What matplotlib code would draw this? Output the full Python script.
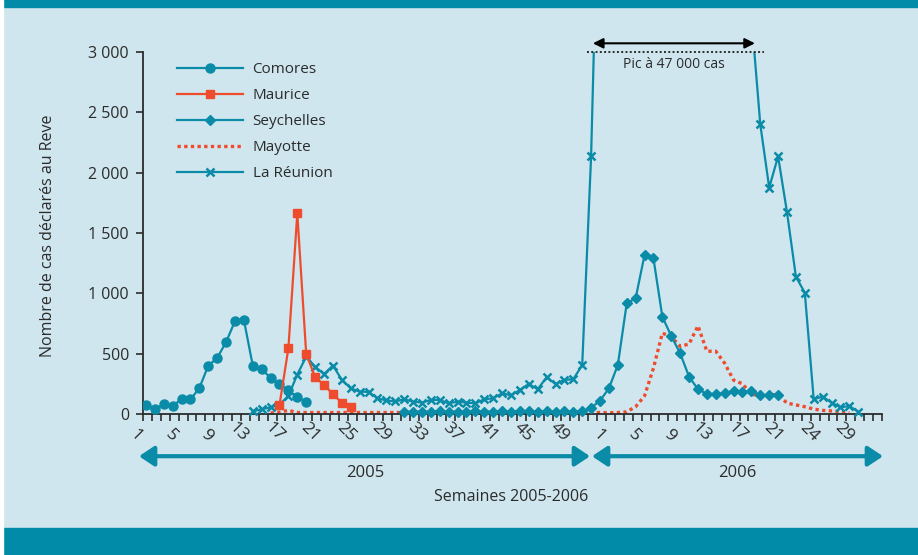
import numpy as np
import matplotlib
matplotlib.use('Agg')
import matplotlib.pyplot as plt
import matplotlib.transforms as mtransforms
from matplotlib.patches import Rectangle, FancyArrowPatch
from matplotlib.lines import Line2D

plt.rcParams['font.family'] = ['Open Sans', 'DejaVu Sans']

# weeks: index 0 = 2005 week 1, index 52 = 2006 week 1
n_2005 = 52

# Comores, 2005 weeks 1-19
comores_start = 0
comores = [72, 40, 80, 65, 125, 120, 215, 400, 465, 595, 770, 780, 400, 370,
           300, 245, 195, 140, 100]

# Maurice, 2005 weeks 16-24
maurice_start = 15
maurice = [75, 545, 1663, 497, 307, 240, 166, 91, 55]

# Seychelles, 2005 week 30 to 2006 week 20
seychelles_start = 29
seychelles = [18, 20, 18, 20, 22, 18, 20, 20, 22, 20, 20, 22, 20, 22, 24, 20,
              22, 20, 22, 20, 22, 52, 110,
              213, 406, 917, 959, 1318, 1290, 806, 646, 503, 309, 205, 166,
              166, 171, 193, 185, 190, 157, 157, 157]

# Mayotte, 2005 week 15 to 2006 week 28
mayotte_start = 14
mayotte = [8, 15, 30, 12, 12, 12, 12, 12, 12, 12, 12, 12, 12, 12, 12, 12,
           12, 12, 12, 12, 12, 12, 12, 12, 12, 12, 12, 12, 12, 12, 12, 12,
           12, 12, 12, 12, 12, 12,
           10, 12, 18, 60, 150, 380, 670, 640, 560, 580, 730, 520, 520, 420,
           280, 250, 160, 160, 160, 160, 90, 75, 60, 40, 30, 25, 20, 10]

# La Réunion, 2005 week 13 to 2006 week 29 (peak of 47 000 is off the scale)
reunion_start = 12
reunion = [22, 39, 55, 78, 150, 327, 475, 392, 331, 401, 284, 212, 185, 183,
           130, 112, 104, 122, 102, 94, 116, 116, 88, 102, 94, 88, 122, 130,
           171, 155, 199, 249, 205, 304, 249, 282, 288, 406, 2140,
           5000,
           8000, 14000, 24000, 36000, 47000, 44000, 36000, 26000, 18000, 13000,
           10000, 8000, 6500, 5500, 4500, 3800, 3300,
           2400, 1876, 2135, 1672, 1138, 1005, 122, 144, 94, 55, 66, 19]

labels_2005 = ['1', '5', '9', '13', '17', '21', '25', '29', '33', '37', '41',
               '45', '49']
labels_2006 = ['1', '5', '9', '13', '17', '21', '24', '29']
n_ticks = 84

teal = '#0a8ba7'
red = '#ef4c2e'
bg = '#cfe6ee'
band = '#018ba9'
dark = '#2b2b2b'

fig = plt.figure(figsize=(9.18, 5.55), dpi=100)
fig.patch.set_facecolor(bg)
fig.add_artist(Rectangle((0, 1 - 7 / 555), 1, 7 / 555, transform=fig.transFigure,
                         color=band, zorder=0))
fig.add_artist(Rectangle((0, 0), 1, 27 / 555, transform=fig.transFigure,
                         color=band, zorder=0))
fig.add_artist(Rectangle((0, 0), 3 / 918, 1, transform=fig.transFigure,
                         color='white', zorder=1))

ax = fig.add_axes([143 / 918, (555 - 418.8) / 555, (882 - 143) / 918,
                   (418.8 - 52) / 555])
ax.set_facecolor('none')


def xs(start, vals):
    return np.arange(start, start + len(vals))


ax.plot(xs(mayotte_start, mayotte), mayotte, color=red, lw=2.4,
        linestyle=(0, (1.0, 1.0)), dash_capstyle='butt', zorder=2)
ax.plot(xs(reunion_start, reunion), reunion, color=teal, lw=1.6, marker='x',
        ms=6, mew=1.8, zorder=3)
ax.plot(xs(seychelles_start, seychelles), seychelles, color=teal, lw=1.6,
        marker='D', ms=5, zorder=3)
ax.plot(xs(comores_start, comores), comores, color=teal, lw=1.6, marker='o',
        ms=6.5, zorder=3)
ax.plot(xs(maurice_start, maurice), maurice, color=red, lw=1.6, marker='s',
        ms=6, zorder=4)

ax.set_ylim(-40, 3000)
ax.set_xlim(-0.33, n_ticks - 1.33)
ax.spines['top'].set_visible(False)
ax.spines['right'].set_visible(False)
ax.spines['bottom'].set_position(('data', 0))
ax.spines['left'].set_bounds(0, 3000)
for s in ['left', 'bottom']:
    ax.spines[s].set_color(dark)
    ax.spines[s].set_linewidth(1.3)

yt = np.arange(0, 3001, 500)
ax.set_yticks(yt)
ax.set_yticklabels([f'{v:,}'.replace(',', ' ') for v in yt])

tick_pos = np.arange(n_ticks) - 0.33
tick_lab = [''] * n_ticks
for i, l in enumerate(labels_2005):
    tick_lab[i * 4] = l
for i, l in enumerate(labels_2006):
    tick_lab[n_2005 + i * 4] = l
ax.set_xticks(tick_pos)
ax.set_xticklabels(tick_lab, rotation=-45, ha='right', va='center',
                   rotation_mode='anchor')
ax.tick_params(axis='x', direction='out', length=5, width=1.2, color=dark,
               labelsize=12.5, labelcolor=dark, pad=13)
ax.tick_params(axis='y', direction='out', length=5, width=1.2, color=dark,
               labelsize=11.5, labelcolor=dark, pad=5)
shift = mtransforms.ScaledTranslation(-4 / 100, 0, fig.dpi_scale_trans)
for lab in ax.get_xticklabels():
    lab.set_transform(lab.get_transform() + shift)

ax.set_ylabel('Nombre de cas déclarés au Reve', fontsize=11.5, color=dark)
ax.yaxis.set_label_coords(-0.118, 0.5)

# peak annotation
ax.plot([49.5, 69.4], [3000, 3000], color=dark, lw=1.4, linestyle=(0, (1, 1.2)),
        clip_on=False, zorder=5)
ax.annotate('', xy=(50.2, 3072), xytext=(68.4, 3072),
            arrowprops=dict(arrowstyle='<|-|>,head_length=0.6,head_width=0.3',
                            color='black', lw=1.5, shrinkA=0, shrinkB=0),
            annotation_clip=False)
ax.text(59.3, 2900, 'Pic à 47 000 cas', ha='center', va='center',
        fontsize=10, color=dark)

leg_handles = [
    Line2D([], [], color=teal, lw=1.6, marker='o', ms=6.5),
    Line2D([], [], color=red, lw=1.6, marker='s', ms=6),
    Line2D([], [], color=teal, lw=1.6, marker='D', ms=5),
    Line2D([], [], color=red, lw=2.4, linestyle=(0, (1.0, 1.0))),
    Line2D([], [], color=teal, lw=1.6, marker='x', ms=6, mew=1.8),
]
leg = ax.legend(leg_handles, ['Comores', 'Maurice', 'Seychelles', 'Mayotte',
                              'La Réunion'],
                loc='upper left', bbox_to_anchor=(0.046, 0.972),
                frameon=False, fontsize=11, handlelength=4.3,
                handletextpad=0.65, labelspacing=0.72, borderpad=0,
                borderaxespad=0, markerscale=1.0)
for t in leg.get_texts():
    t.set_color(dark)

# year arrows under the axis
for x0, x1 in [(139, 590), (592, 883)]:
    fig.add_artist(FancyArrowPatch(
        (x0 / 918, 0.178), (x1 / 918, 0.178), transform=fig.transFigure,
        arrowstyle='<|-|>,head_length=9,head_width=6', color=teal, lw=3,
        shrinkA=0, shrinkB=0))
fig.text(365 / 918, (555 - 473) / 555, '2005', ha='center', va='center',
         fontsize=12, color=dark)
fig.text(737 / 918, (555 - 473) / 555, '2006', ha='center', va='center',
         fontsize=12, color=dark)
fig.text(511 / 918, (555 - 497) / 555, 'Semaines 2005-2006', ha='center',
         va='center', fontsize=11.5, color=dark)

fig.savefig('out.png', dpi=100, facecolor=bg)
